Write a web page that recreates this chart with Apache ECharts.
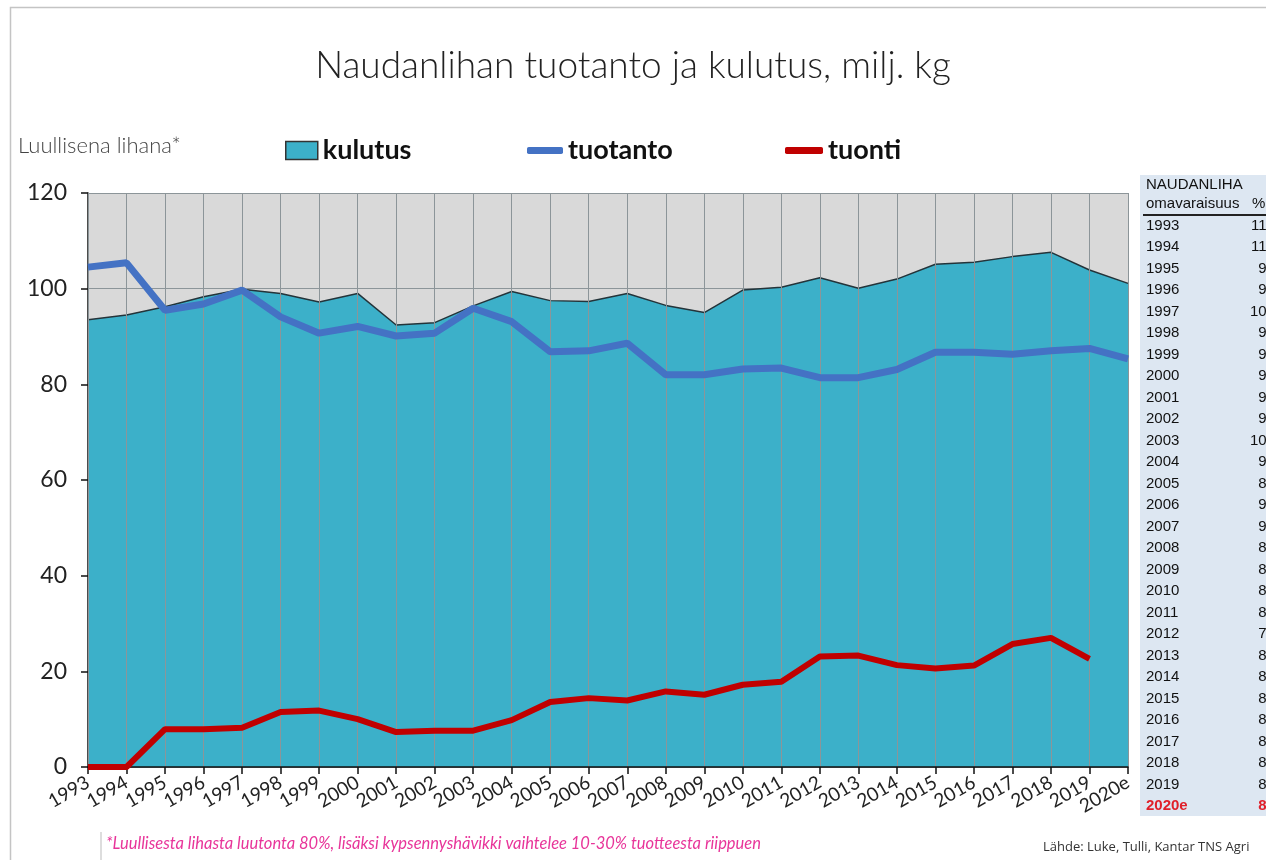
<!DOCTYPE html>
<html>
<head>
<meta charset="utf-8">
<script src="https://cdn.jsdelivr.net/npm/echarts@6/dist/echarts.min.js"></script>
<style>
  html, body { margin: 0; padding: 0; background: #fff; }
  #chart { width: 1266px; height: 860px; }
</style>
</head>
<body>
<div id="chart"></div>
<script>
// vuodet (x-akseli)
const years = ['1993','1994','1995','1996','1997','1998','1999','2000','2001','2002','2003','2004','2005','2006',
  '2007','2008','2009','2010','2011','2012','2013','2014','2015','2016','2017','2018','2019','2020e'];

// kulutus, milj. kg
const kulutus = [93.5, 94.5, 96.2, 98.3, 99.9, 99.0, 97.2, 99.0, 92.4, 92.9, 96.4, 99.4, 97.5, 97.3,
  99.0, 96.5, 95.0, 99.7, 100.3, 102.3, 100.1, 102.0, 105.1, 105.5, 106.7, 107.6, 103.9, 101.1];

// tuotanto, milj. kg
const tuotanto = [104.5, 105.4, 95.5, 96.8, 99.7, 94.1, 90.7, 92.1, 90.1, 90.7, 95.9, 93.1, 86.8, 87.0,
  88.6, 82.0, 82.0, 83.2, 83.4, 81.4, 81.4, 83.1, 86.7, 86.7, 86.3, 87.0, 87.5, 85.3];

// tuonti, milj. kg (2020e puuttuu)
const tuonti = [0, 0, 7.9, 7.9, 8.2, 11.5, 11.8, 10.0, 7.3, 7.6, 7.6, 9.8, 13.6, 14.4,
  13.9, 15.8, 15.1, 17.2, 17.8, 23.1, 23.3, 21.3, 20.6, 21.2, 25.7, 27.0, 22.6, null];

// omavaraisuus % (taulukko oikealla)
const omavaraisuus = [112, 112, 99, 98, 100, 95, 93, 93, 97, 98, 100, 94, 89, 90,
  90, 85, 86, 84, 83, 79, 81, 81, 82, 82, 81, 81, 84, 84];

const yTicks = [0, 20, 40, 60, 80, 100, 120];

const FONT = 'Lato, "Open Sans", sans-serif';
const TFONT = '15px Arial, "Liberation Sans"';

const chart = echarts.init(document.getElementById('chart'), null, { renderer: 'canvas' });

// taulukon tekstit
const tableItems = [
  { type: 'text', left: 1146, top: 177, style: { text: 'NAUDANLIHA', font: TFONT, fill: '#111' }, z: 2 },
  { type: 'text', left: 1146, top: 196, style: { text: 'omavaraisuus   %', font: TFONT, fill: '#111' }, z: 2 }
];
years.forEach(function (y, i) {
  const last = i === years.length - 1;
  const top = 218 + i * 21.5;
  tableItems.push({
    type: 'text', left: 1146, top: top, z: 2,
    style: { text: y, font: (last ? 'bold ' : '') + TFONT, fill: last ? '#e0202a' : '#111' }
  });
  tableItems.push({
    type: 'text', x: 1275, y: top, z: 2,
    style: { text: String(omavaraisuus[i]), textAlign: 'right', font: (last ? 'bold ' : '') + TFONT, fill: last ? '#e0202a' : '#111' }
  });
});

const option = {
  backgroundColor: '#fff',
  animation: false,
  title: {
    text: 'Naudanlihan tuotanto ja kulutus, milj. kg',
    left: 'center',
    top: 43,
    textStyle: { fontFamily: FONT, fontSize: 37, fontWeight: 300, color: '#222' }
  },
  legend: [
    {
      left: 280, top: 132, itemWidth: 32, itemHeight: 18,
      textStyle: { fontFamily: FONT, fontSize: 27, fontWeight: 'bold', color: '#111' },
      data: [{ name: 'kulutus', icon: 'rect', itemStyle: { color: '#3cb0c9', borderColor: '#333', borderWidth: 1.5 } }]
    },
    {
      left: 522, top: 132, itemWidth: 36, itemHeight: 7,
      textStyle: { fontFamily: FONT, fontSize: 27, fontWeight: 'bold', color: '#111' },
      data: [{ name: 'tuotanto', icon: 'roundRect', itemStyle: { color: '#4472c4' } }]
    },
    {
      left: 780, top: 132, itemWidth: 38, itemHeight: 7,
      textStyle: { fontFamily: FONT, fontSize: 27, fontWeight: 'bold', color: '#111' },
      data: [{ name: 'tuonti', icon: 'roundRect', itemStyle: { color: '#c00000' } }]
    }
  ],
  grid: {
    left: 88, right: 138, top: 193, bottom: 93,
    show: true, backgroundColor: '#d9d9d9', borderWidth: 0
  },
  xAxis: {
    type: 'category',
    data: years,
    boundaryGap: false,
    z: 3,
    axisLine: { lineStyle: { color: '#111', width: 1.5 } },
    axisTick: { show: true, length: 7, lineStyle: { color: '#111', width: 1.5 } },
    axisLabel: { rotate: 30, fontFamily: FONT, fontSize: 19, color: '#222', margin: 14, interval: 0 },
    splitLine: { show: true, lineStyle: { color: '#8c9599', width: 1 } }
  },
  yAxis: {
    type: 'value',
    min: 0, max: 120, interval: 20,
    axisLine: { show: true, lineStyle: { color: '#111', width: 1.5 } },
    axisTick: { show: true, length: 7, lineStyle: { color: '#111', width: 1.5 } },
    axisLabel: { fontFamily: FONT, fontSize: 23, color: '#222', margin: 21,
      formatter: function (v) { return yTicks.indexOf(v) >= 0 ? String(v) : ''; } },
    splitLine: { show: true, lineStyle: { color: '#8c9599', width: 1 } }
  },
  series: [
    {
      name: 'kulutus',
      type: 'line',
      data: kulutus,
      symbol: 'none',
      z: 2,
      lineStyle: { color: '#24343a', width: 1.5 },
      areaStyle: { color: '#3cb0c9', opacity: 1 },
      itemStyle: { color: '#3cb0c9' }
    },
    {
      name: 'tuotanto',
      type: 'line',
      data: tuotanto,
      symbol: 'none',
      z: 5,
      lineStyle: { color: '#4472c4', width: 7 },
      itemStyle: { color: '#4472c4' }
    },
    {
      name: 'tuonti',
      type: 'line',
      data: tuonti,
      symbol: 'none',
      z: 5,
      lineStyle: { color: '#c00000', width: 6 },
      itemStyle: { color: '#c00000' }
    }
  ],
  graphic: [
    // kehys
    { type: 'rect', left: 8, top: 5, shape: { width: 1300, height: 900 }, style: { fill: 'none', stroke: '#c4c4c4', lineWidth: 1.5 }, z: 0 },
    // taulukon tausta ja alleviivaus
    { type: 'rect', shape: { x: 1140, y: 175, width: 126, height: 641 }, style: { fill: '#dde7f2' }, z: 1 },
    { type: 'rect', shape: { x: 1143, y: 214, width: 123, height: 2 }, style: { fill: '#222' }, z: 3 },
    { type: 'text', left: 18, top: 135, style: { text: 'Luullisena lihana*', font: '300 22px Lato, "Open Sans", sans-serif', fill: '#444' } },
    { type: 'line', shape: { x1: 101, y1: 832, x2: 101, y2: 860 }, style: { stroke: '#bbb', lineWidth: 1 } },
    { type: 'text', left: 106, top: 835, style: { text: '*Luullisesta lihasta luutonta 80%, lisäksi kypsennyshävikki vaihtelee 10-30% tuotteesta riippuen', font: 'italic 16.5px Lato, "Open Sans", sans-serif', fill: '#e8359a' } },
    { type: 'text', left: 1043, top: 841, style: { text: 'Lähde: Luke, Tulli, Kantar TNS Agri', font: '13px "Open Sans", Lato, sans-serif', fill: '#333' } }
  ].concat(tableItems)
};

chart.setOption(option);
</script>
</body>
</html>
